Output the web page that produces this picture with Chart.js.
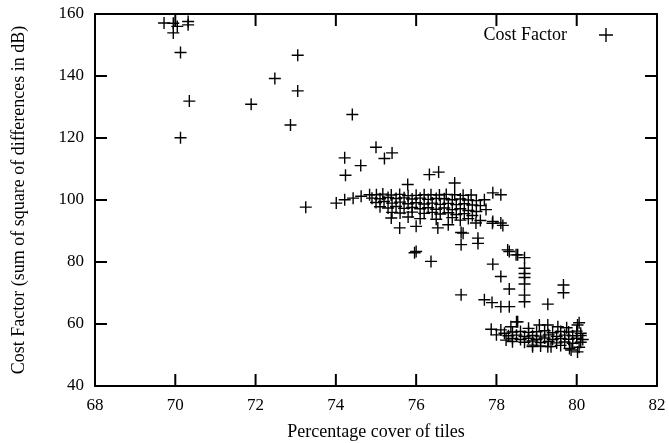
<!DOCTYPE html>
<html>
<head>
<meta charset="utf-8">
<script src="https://cdn.jsdelivr.net/npm/chart.js@4"></script>
<style>
  html, body { margin: 0; padding: 0; background: #fff; }
  #wrap { width: 669px; height: 443px; }
</style>
</head>
<body>
<div id="wrap"><canvas id="costChart" width="669" height="443"></canvas></div>
<script>
// Percentage cover of tiles (x) and cost factor (y)
const coverX = [
  // upper-left scatter
  69.72, 69.95, 69.95, 70.05, 70.32, 70.32, 70.13, 70.35, 70.13, 71.89, 72.48, 73.05, 73.05, 72.87,
  // outliers above the main band
  74.41, 74.22, 74.62, 74.24, 75.0, 75.21, 75.4, 75.79, 76.96, 76.33, 76.56, 73.25,
  // left tail + top row of band
  74.01, 74.22, 74.43, 74.63, 74.84, 75.01, 75.17, 75.38, 75.59, 75.8, 76.0, 76.2, 76.37, 76.58, 76.75,
  76.96, 77.17, 77.37, 77.7, 77.91, 78.11,
  // band rows
  74.9, 75.1, 75.3, 75.5, 75.7, 75.9, 76.1, 76.3, 76.5, 76.7, 76.9, 77.1, 77.3, 77.5,
  75.0, 75.2, 75.4, 75.6, 75.8, 76.0, 76.2, 76.4, 76.6, 76.8, 77.0, 77.2, 77.4, 77.6,
  75.1, 75.3, 75.5, 75.7, 75.9, 76.1, 76.3, 76.5, 76.7, 76.9, 77.1, 77.3, 77.74, 77.5,
  75.4, 75.6, 75.9, 76.2, 76.4, 76.6, 76.8, 77.0, 77.2, 77.4,
  75.38, 75.8, 76.1, 76.5, 76.9, 77.1, 77.3, 77.6, 77.91, 78.11, 77.49,
  // below the band
  75.59, 76.0, 76.54, 76.8, 77.17, 77.12, 77.12, 77.54, 77.54, 78.16, 77.9, 76.0, 75.96, 76.37,
  // transition
  78.28, 78.49, 78.32, 78.53, 78.7, 78.7, 78.7, 78.7, 78.7, 78.7, 78.7, 77.91, 78.11, 78.32,
  77.12, 77.7, 77.89, 78.11, 78.32, 79.28, 79.67, 79.67, 78.5,
  // lower cluster
  77.87, 78.11, 78.36, 78.53, 78.8, 79.07, 79.28, 79.53, 79.75, 80.02, 80.06,
  78.2, 78.4, 78.6, 78.8, 79.0, 79.2, 79.4, 79.6, 79.8, 80.0, 80.1,
  78.0, 78.3, 78.5, 78.7, 78.9, 79.1, 79.3, 79.5, 79.7, 79.9, 80.1,
  78.4, 78.6, 78.8, 79.0, 79.2, 79.4, 79.6, 79.8, 80.0, 80.15,
  78.24, 78.4, 78.7, 78.9, 79.1, 79.3, 79.5, 79.7, 79.9, 80.1,
  78.9, 79.1, 79.36, 79.6, 79.82, 80.02, 80.06, 79.86, 78.9, 79.28
];
const costY = [
  157.1, 157.0, 153.9, 156.0, 157.6, 156.5, 147.6, 131.9, 120.1, 130.9, 139.2, 146.7, 135.2, 124.2,
  127.6, 113.6, 111.1, 108.0, 117.0, 113.4, 115.2, 105.0, 105.5, 108.2, 109.0, 97.7,
  99.0, 100.1, 100.6, 101.2, 101.7, 101.7, 101.9, 101.6, 101.8, 101.4, 101.5, 101.7, 101.7, 101.6, 101.8,
  101.7, 101.5, 101.6, 100.1, 102.3, 101.7,
  100.6, 100.4, 100.8, 100.5, 100.7, 100.3, 100.6, 100.2, 100.5, 100.4, 100.1, 100.3, 100.0, 99.8,
  99.2, 99.5, 99.0, 99.3, 98.8, 99.1, 98.7, 99.0, 98.6, 98.9, 98.5, 98.8, 98.4, 98.2,
  97.8, 97.4, 97.9, 97.3, 97.6, 97.2, 97.5, 97.0, 97.4, 96.9, 97.2, 96.6, 96.9, 96.3,
  96.0, 95.8, 96.1, 95.7, 96.0, 95.5, 95.9, 95.3, 95.6, 95.0,
  94.2, 94.5, 94.0, 93.8, 94.3, 93.5, 94.0, 93.4, 93.1, 92.6, 92.6,
  91.0, 91.5, 91.0, 92.0, 89.3, 89.5, 85.6, 87.7, 86.0, 91.8, 92.5, 83.4, 83.0, 80.2,
  83.9, 82.3, 83.4, 82.3, 81.4, 78.0, 76.3, 75.0, 72.9, 69.3, 67.2, 79.3, 75.3, 71.3,
  69.4, 67.8, 66.9, 65.6, 65.6, 66.4, 72.6, 70.1, 60.7,
  58.3, 58.1, 59.1, 60.7, 58.6, 59.7, 59.7, 59.1, 58.8, 59.7, 60.4,
  57.0, 57.4, 57.6, 57.3, 57.5, 57.8, 57.2, 57.6, 57.4, 57.7, 57.0,
  56.5, 56.2, 56.4, 56.0, 56.3, 56.1, 56.5, 56.0, 56.4, 56.2, 56.3,
  55.3, 55.0, 55.4, 55.1, 55.5, 55.0, 55.3, 55.1, 55.4, 55.0,
  54.8, 54.3, 54.1, 54.5, 54.0, 54.4, 53.9, 54.2, 53.8, 54.1,
  53.2, 52.9, 52.7, 53.1, 52.1, 51.0, 52.5, 51.6, 52.7, 52.7
];
const xTicks = [68, 70, 72, 74, 76, 78, 80, 82];
const yTicks = [40, 60, 80, 100, 120, 140, 160];

const points = coverX.map((x, i) => ({ x: x, y: costY[i] }));
const serif = "'Liberation Serif', 'DejaVu Serif', serif";

// gnuplot-style frame, inward ticks and legend inside the plot
const framePlugin = {
  id: 'frame',
  afterDatasetsDraw(chart) {
    const ctx = chart.ctx;
    const a = chart.chartArea;
    const xs = chart.scales.x, ys = chart.scales.y;
    ctx.save();
    ctx.strokeStyle = '#000';
    ctx.lineWidth = 2;
    ctx.strokeRect(a.left, a.top, a.right - a.left, a.bottom - a.top);
    ctx.beginPath();
    xTicks.forEach(v => {
      const px = xs.getPixelForValue(v);
      ctx.moveTo(px, a.bottom); ctx.lineTo(px, a.bottom - 12);
      ctx.moveTo(px, a.top); ctx.lineTo(px, a.top + 12);
    });
    yTicks.forEach(v => {
      const py = ys.getPixelForValue(v);
      ctx.moveTo(a.left, py); ctx.lineTo(a.left + 12, py);
      ctx.moveTo(a.right, py); ctx.lineTo(a.right - 12, py);
    });
    ctx.stroke();

    // legend
    const ly = a.top + 21;
    ctx.fillStyle = '#000';
    ctx.font = '18px ' + serif;
    ctx.textAlign = 'right';
    ctx.textBaseline = 'middle';
    ctx.fillText('Cost Factor', a.right - 90, ly);
    const lx = a.right - 51;
    ctx.lineWidth = 1.4;
    ctx.beginPath();
    ctx.moveTo(lx - 7, ly); ctx.lineTo(lx + 7, ly);
    ctx.moveTo(lx, ly - 7); ctx.lineTo(lx, ly + 7);
    ctx.stroke();
    ctx.restore();
  }
};

new Chart(document.getElementById('costChart'), {
  type: 'scatter',
  data: {
    datasets: [{
      label: 'Cost Factor',
      data: points,
      pointStyle: 'cross',
      radius: 6,
      borderColor: '#000',
      backgroundColor: '#000',
      borderWidth: 1.4,
      clip: false
    }]
  },
  options: {
    responsive: false,
    animation: false,
    layout: { padding: { top: 14, right: 12, left: 8, bottom: 0 } },
    plugins: { legend: { display: false }, tooltip: { enabled: false } },
    scales: {
      x: {
        type: 'linear', min: 68, max: 82,
        afterBuildTicks(s) { s.ticks = xTicks.map(v => ({ value: v })); },
        afterFit(s) { s.height = 57; s.paddingLeft = 0; s.paddingRight = 0; },
        grid: { display: false, drawTicks: false },
        border: { display: false },
        ticks: { color: '#000', padding: 9, font: { family: serif, size: 17 } },
        title: { display: true, text: 'Percentage cover of tiles', color: '#000',
                 font: { family: serif, size: 18 }, padding: { top: 0, bottom: 0 } }
      },
      y: {
        type: 'linear', min: 40, max: 160,
        afterBuildTicks(s) { s.ticks = yTicks.map(v => ({ value: v })); },
        afterFit(s) { s.width = 87; s.paddingTop = 0; s.paddingBottom = 0; },
        grid: { display: false, drawTicks: false },
        border: { display: false },
        ticks: { color: '#000', padding: 11, font: { family: serif, size: 17 } },
        title: { display: true, text: 'Cost Factor (sum of square of differences in dB)', color: '#000',
                 font: { family: serif, size: 18 }, padding: { top: 0, bottom: 4 } }
      }
    }
  },
  plugins: [framePlugin]
});
</script>
</body>
</html>
